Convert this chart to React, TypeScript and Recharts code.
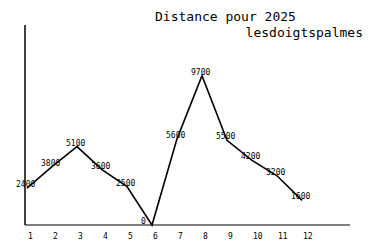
import React from 'react';
import { LineChart, Line, XAxis, YAxis, LabelList } from 'recharts';

const months = [1, 2, 3, 4, 5, 6, 7, 8, 9, 10, 11, 12];
const distances = [2400, 3800, 5100, 3600, 2500, 0, 5600, 9700, 5500, 4200, 3200, 1600];
const titleLine1 = 'Distance pour 2025';
const titleLine2 = 'lesdoigtspalmes';

const chartData = months.map((m, i) => ({ month: m, distance: distances[i] }));

const mono = '"DejaVu Sans Mono", "Liberation Mono", monospace';

// tick labels sit left-aligned under each point
const MonthTick = ({ x, y, payload }: any) => (
  <text x={x + 1} y={y} dy={6} textAnchor="start" fontSize={8} fontFamily={mono} fill="#000">
    {payload.value}
  </text>
);

const ValueLabel = ({ x, y, value }: any) => (
  <text x={x - 11} y={y} dy={-1} textAnchor="start" fontSize={8} fontFamily={mono} fill="#000">
    {value}
  </text>
);

export default function App() {
  return (
    <div style={{ position: 'absolute', left: 0, top: 0, width: 375, height: 250, background: '#fff' }}>
      <LineChart
        width={375}
        height={250}
        data={chartData}
        margin={{ top: 25, right: 25, left: 24, bottom: 0 }}
      >
        <XAxis
          dataKey="month"
          type="number"
          domain={[0.92, 13.92]}
          ticks={months}
          interval={0}
          height={25}
          tickLine={false}
          axisLine={{ stroke: '#000', strokeWidth: 1 }}
          tick={<MonthTick />}
        />
        <YAxis
          width={1}
          domain={[0, 13000]}
          tick={false}
          tickLine={false}
          axisLine={{ stroke: '#000', strokeWidth: 1.5 }}
        />
        <Line
          type="linear"
          dataKey="distance"
          stroke="#000"
          strokeWidth={1.6}
          dot={false}
          isAnimationActive={false}
        >
          <LabelList dataKey="distance" content={<ValueLabel />} />
        </Line>
      </LineChart>
      <svg width={375} height={250} style={{ position: 'absolute', left: 0, top: 0, pointerEvents: 'none' }}>
        <text x={155} y={21} fontSize={13} fontFamily={mono} fill="#000">
          {titleLine1}
        </text>
        <text x={363} y={37} textAnchor="end" fontSize={13} fontFamily={mono} fill="#000">
          {titleLine2}
        </text>
      </svg>
    </div>
  );
}
